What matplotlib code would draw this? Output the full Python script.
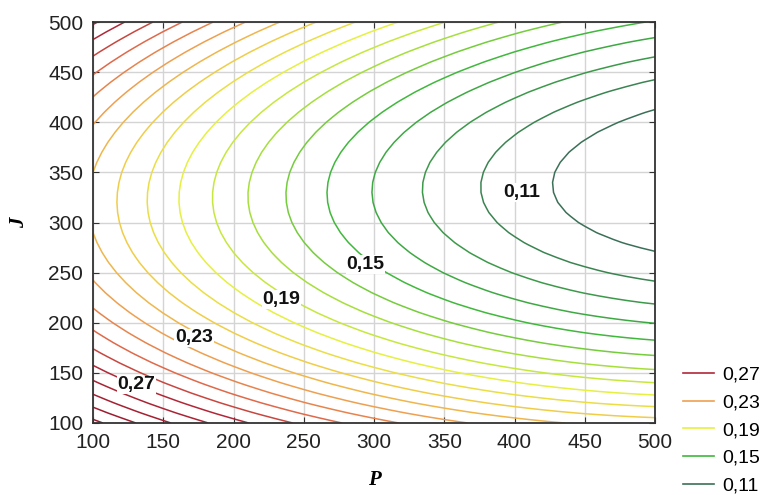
import numpy as np
import matplotlib
matplotlib.use("Agg")
import matplotlib.pyplot as plt
from matplotlib.colors import LinearSegmentedColormap
from matplotlib.lines import Line2D

# ---- data (response surface) ----
p_range = [100, 500]
j_range = [100, 500]
ticks = [100, 150, 200, 250, 300, 350, 400, 450, 500]
# z = g(P) + D*(J - Jc(P))^2 ; g(P)=a+bP+cP^2 ; Jc(P)=j0+s*(P-100)
g_coef = [0.272258, -5.8953e-4, 4.907e-7]
j_center = [320.0, 0.055]
d_coef = 1.96e-6
levels = [0.11, 0.12, 0.13, 0.14, 0.15, 0.16, 0.17, 0.18, 0.19, 0.20, 0.21,
          0.22, 0.23, 0.24, 0.25, 0.26, 0.27, 0.28, 0.29, 0.30, 0.31]
legend_levels = [0.27, 0.23, 0.19, 0.15, 0.11]
label_levels = ["0,11", "0,15", "0,19", "0,23", "0,27"]
label_pos = [(405, 330), (294, 258), (234, 223), (172, 185), (131, 138)]

color_levels = [0.11, 0.13, 0.15, 0.17, 0.19, 0.21, 0.23, 0.25, 0.27, 0.31]
color_hex = ['#3b7058', '#3c9a4a', '#40b83c', '#a8e03c', '#e6f040',
             '#f0cc48', '#eea050', '#e06a4a', '#b02838', '#961a2c']

plt.rcParams['font.family'] = ['Liberation Sans', 'DejaVu Sans']

fig = plt.figure(figsize=(7.74, 4.95), dpi=100)
ax = fig.add_axes([93/774, 1-423/495, (655-93)/774, (423-22)/495])

P = np.linspace(p_range[0], p_range[1], 41)
J = np.linspace(j_range[0], j_range[1], 41)
PP, JJ = np.meshgrid(P, J)
g = g_coef[0] + g_coef[1]*PP + g_coef[2]*PP**2
jc = j_center[0] + j_center[1]*(PP - 100)
Z = g + d_coef*(JJ - jc)**2

lo, hi = color_levels[0], color_levels[-1]
cmap = LinearSegmentedColormap.from_list(
    'sc', [((v-lo)/(hi-lo), c) for v, c in zip(color_levels, color_hex)])
norm = plt.Normalize(lo, hi)

ax.contour(PP, JJ, Z, levels=levels, cmap=cmap, norm=norm, linewidths=1.1, zorder=2)

for txt, (x, y) in zip(label_levels, label_pos):
    ax.text(x, y, txt, ha='center', va='center', fontsize=14, fontweight='bold',
            color='#111111', zorder=4,
            bbox=dict(facecolor='white', edgecolor='none', pad=0.5))

ax.set_xlim(*p_range)
ax.set_ylim(*j_range)
ax.set_xticks(ticks)
ax.set_yticks(ticks)
ax.grid(True, color='#d4d4d4', linewidth=1.0, zorder=0)
ax.set_axisbelow(True)
ax.tick_params(direction='in', length=4, top=True, right=True,
               labelsize=15, pad=7, colors='#333333', labelcolor='#222222')
for s in ax.spines.values():
    s.set_color('#333333')
    s.set_linewidth(1.3)

ax.set_xlabel('P', fontsize=15, fontweight='bold', fontstyle='italic',
              family='Liberation Serif', labelpad=13)
ax.set_ylabel('J', fontsize=15, fontweight='bold', fontstyle='italic',
              family='Liberation Serif', labelpad=14)

handles = [Line2D([0], [0], color=cmap(norm(v)), lw=1.2) for v in legend_levels]
labels = [f"{v:.2f}".replace('.', ',') for v in legend_levels]
fig.legend(handles, labels, loc='upper left', bbox_to_anchor=(683/774, 1-366/495),
           frameon=False, fontsize=14, handlelength=1.6, handletextpad=0.4,
           labelspacing=0.52, borderpad=0, borderaxespad=0)

fig.savefig('out.png', dpi=100)
